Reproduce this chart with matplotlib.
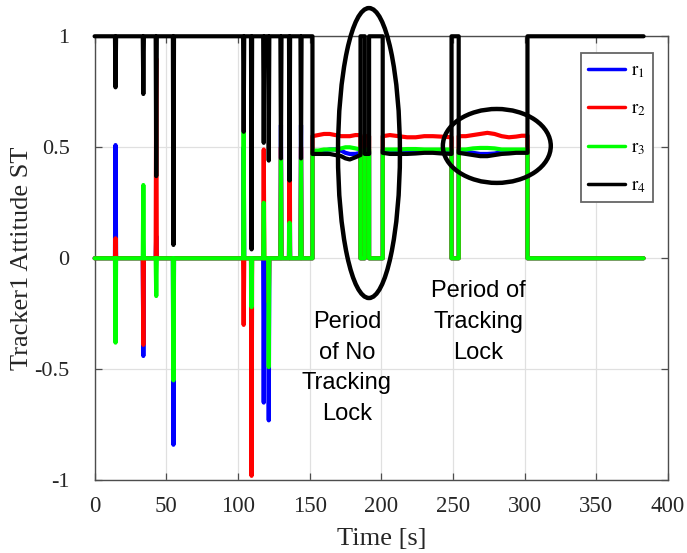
import matplotlib
matplotlib.use("Agg")
import matplotlib.pyplot as plt
from matplotlib.patches import Ellipse

plt.rcParams['mathtext.fontset'] = 'stix'

# Quaternion components of the star-tracker attitude solution
# Isolated single-sample solutions while the tracker has no lock
spike_t = [14.6, 34.0, 43.0, 55.0, 104.0, 109.5, 118.0, 121.5, 130.0, 136.0, 144.0]
spike_r1 = [0.51, -0.44, 0.10, -0.84, 0.50, 0.00, -0.65, -0.73, 0.60, 0.45, 0.60]
spike_r2 = [0.09, -0.39, 0.90, 0.00, -0.30, -0.98, 0.49, -0.20, 0.50, 0.80, 0.50]
spike_r3 = [-0.38, 0.33, -0.17, -0.55, 0.57, -0.22, 0.25, -0.49, 0.45, 0.16, 0.45]
spike_r4 = [0.77, 0.74, 0.37, 0.06, 0.57, 0.04, 0.52, 0.44, 0.45, 0.35, 0.45]

# Intervals with tracking lock
lock1_t = [152, 156, 160, 164, 168, 172, 175, 178, 182, 185.5]
lock1_r1 = [0.48, 0.48, 0.485, 0.49, 0.49, 0.485, 0.475, 0.47, 0.47, 0.475]
lock1_r2 = [0.55, 0.555, 0.56, 0.56, 0.555, 0.55, 0.55, 0.55, 0.555, 0.555]
lock1_r3 = [0.485, 0.485, 0.49, 0.49, 0.49, 0.495, 0.50, 0.50, 0.495, 0.49]
lock1_r4 = [0.47, 0.47, 0.47, 0.47, 0.465, 0.46, 0.45, 0.445, 0.455, 0.465]

lock2_t = [188.5, 191.5]
lock2_r1 = [0.48, 0.48]
lock2_r2 = [0.55, 0.55]
lock2_r3 = [0.49, 0.49]
lock2_r4 = [0.47, 0.47]

lock3_t = [201, 206, 212, 218, 224, 230, 236, 242, 249]
lock3_r1 = [0.485, 0.485, 0.48, 0.48, 0.48, 0.48, 0.485, 0.485, 0.485]
lock3_r2 = [0.55, 0.555, 0.55, 0.545, 0.545, 0.55, 0.55, 0.548, 0.545]
lock3_r3 = [0.49, 0.49, 0.49, 0.492, 0.492, 0.49, 0.49, 0.49, 0.49]
lock3_r4 = [0.475, 0.47, 0.47, 0.47, 0.472, 0.475, 0.475, 0.472, 0.47]

lock4_t = [254, 259, 264, 269, 274, 279, 284, 289, 294, 298, 302]
lock4_r1 = [0.485, 0.48, 0.475, 0.47, 0.47, 0.472, 0.478, 0.482, 0.485, 0.485, 0.485]
lock4_r2 = [0.55, 0.55, 0.555, 0.56, 0.565, 0.56, 0.55, 0.545, 0.548, 0.552, 0.552]
lock4_r3 = [0.49, 0.49, 0.495, 0.497, 0.497, 0.495, 0.49, 0.49, 0.49, 0.49, 0.49]
lock4_r4 = [0.475, 0.47, 0.465, 0.46, 0.46, 0.465, 0.47, 0.472, 0.475, 0.475, 0.475]

# Default output when no solution is available
idle = [0.0, 0.0, 0.0, 1.0]
t_end = 383.0

names = [r'$\mathrm{r}_1$', r'$\mathrm{r}_2$', r'$\mathrm{r}_3$', r'$\mathrm{r}_4$']
colors = ['#0000ff', '#ff0000', '#00ff00', '#000000']

spikes = [spike_r1, spike_r2, spike_r3, spike_r4]
locks = [
    (lock1_t, [lock1_r1, lock1_r2, lock1_r3, lock1_r4]),
    (lock2_t, [lock2_r1, lock2_r2, lock2_r3, lock2_r4]),
    (lock3_t, [lock3_r1, lock3_r2, lock3_r3, lock3_r4]),
    (lock4_t, [lock4_r1, lock4_r2, lock4_r3, lock4_r4]),
]

# Assemble the sampled time series
t = [0.0]
series = [[idle[k]] for k in range(4)]
dt = 0.4
for i, ts in enumerate(spike_t):
    t += [ts - dt, ts, ts + dt]
    for k in range(4):
        series[k] += [idle[k], spikes[k][i], idle[k]]
for lt, lv in locks:
    t += [lt[0]] + list(lt) + [lt[-1]]
    for k in range(4):
        series[k] += [idle[k]] + list(lv[k]) + [idle[k]]
t.append(t_end)
for k in range(4):
    series[k].append(idle[k])

fig = plt.figure(figsize=(6.87, 5.53), dpi=100)
ax = fig.add_axes([0.1377, 0.1315, 0.8346, 0.8029])

for k in range(4):
    ax.plot(t, series[k], color=colors[k], lw=3.0, label=names[k],
            solid_joinstyle='round', solid_capstyle='round', clip_on=False, zorder=3 + k)

ax.set_xlim(0, 400)
ax.set_ylim(-1, 1)
ax.set_xticks(range(0, 401, 50))
ax.set_yticks([-1, -0.5, 0, 0.5, 1])
ax.set_yticklabels(['-1', '-0.5', '0', '0.5', '1'])
ax.grid(True, color='#e0e0e0', lw=0.9)
ax.set_axisbelow(True)

spine_col = '#4d4d4d'
for s in ax.spines.values():
    s.set_color(spine_col)
    s.set_linewidth(1.0)
ax.tick_params(direction='in', length=5, width=0.9, color=spine_col,
               top=True, right=True, labelsize=16.5, labelcolor='#262626')
ax.tick_params(axis='x', pad=11)
ax.tick_params(axis='y', pad=18, labelsize=16)
for lab in ax.get_xticklabels() + ax.get_yticklabels():
    lab.set_family('Liberation Serif')

ax.set_xlabel('Time [s]', family='Liberation Serif', fontsize=19,
              color='#262626', labelpad=8)
ax.set_ylabel('Tracker1 Attitude ST', family='Liberation Serif', fontsize=19,
              color='#262626', labelpad=1)

leg = ax.legend(loc='upper right', bbox_to_anchor=(0.974, 0.962), borderaxespad=0,
                fontsize=13.5, handlelength=2.0, handletextpad=0.3,
                labelspacing=1.0, borderpad=0.38, fancybox=False,
                edgecolor='#666666', framealpha=1)
leg.get_frame().set_linewidth(1.3)
for line in leg.get_lines():
    line.set_linewidth(2.5)

# Highlighted regions
big = Ellipse((191.4, 0.474), 43.2, 1.306, fill=False, ec='black', lw=3.2,
              clip_on=False, zorder=10)
small = Ellipse((280.6, 0.506), 75.3, 0.333, fill=False, ec='black', lw=3.2,
                clip_on=False, zorder=10)
ax.add_patch(big)
ax.add_patch(small)

ax.text(176, -0.494, 'Period\nof No\nTracking\nLock', ha='center', va='center',
        family='Liberation Sans', fontsize=17, linespacing=1.52, zorder=11)
ax.text(267.5, -0.287, 'Period of\nTracking\nLock', ha='center', va='center',
        family='Liberation Sans', fontsize=17, linespacing=1.52, zorder=11)

fig.savefig('out.png', dpi=100)
